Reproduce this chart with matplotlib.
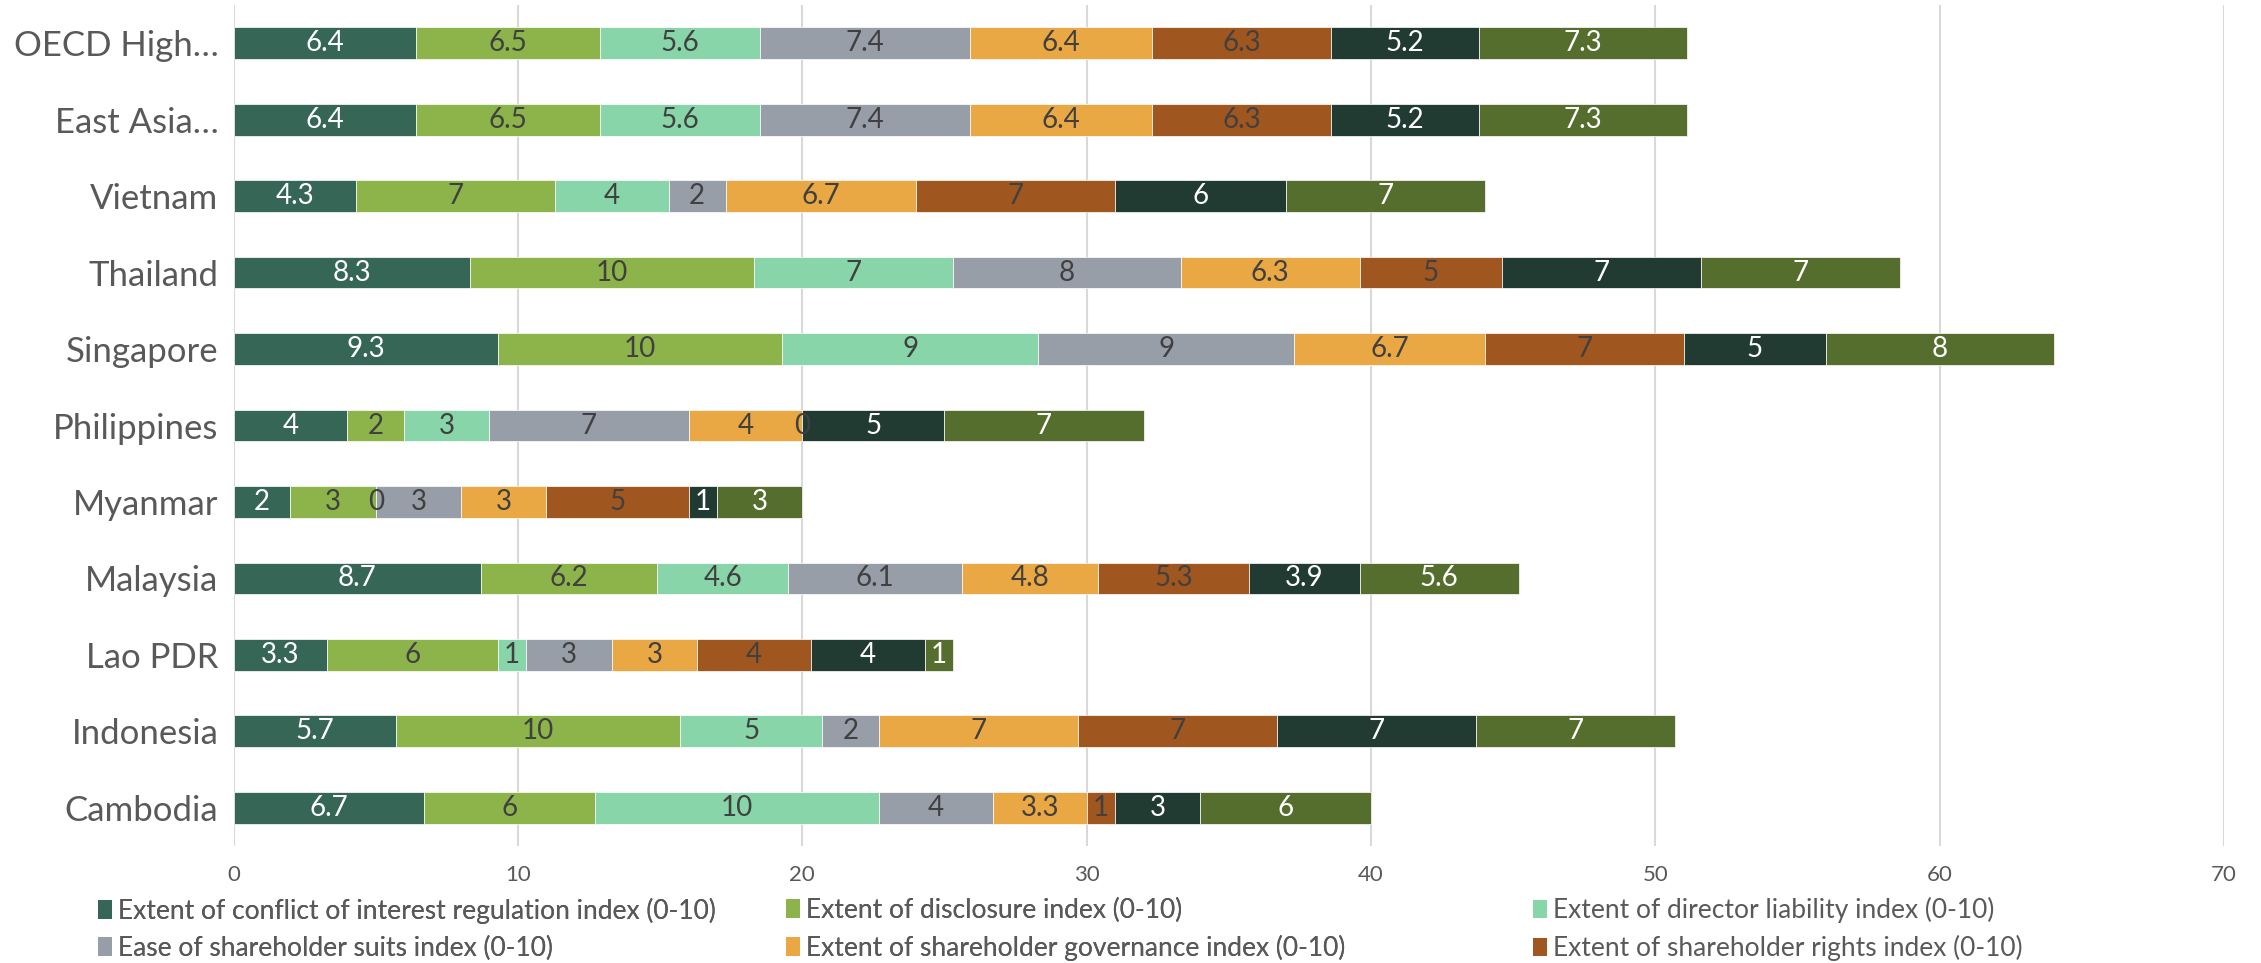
import matplotlib
matplotlib.use('Agg')
import matplotlib.pyplot as plt
import numpy as np
from matplotlib.patches import Patch

plt.rcParams['font.family'] = ['Lato', 'DejaVu Sans']

countries = ['OECD High…', 'East Asia…', 'Vietnam', 'Thailand', 'Singapore',
             'Philippines', 'Myanmar', 'Malaysia', 'Lao PDR', 'Indonesia', 'Cambodia']

series_names = ['Extent of conflict of interest regulation index (0-10)',
                'Extent of disclosure index (0-10)',
                'Extent of director liability index (0-10)',
                'Ease of shareholder suits index (0-10)',
                'Extent of shareholder governance index (0-10)',
                'Extent of shareholder rights index (0-10)',
                'Extent of ownership and control index (0-10)',
                'Extent of corporate transparency index (0-10)']

conflict = [6.4, 6.4, 4.3, 8.3, 9.3, 4, 2, 8.7, 3.3, 5.7, 6.7]
disclosure = [6.5, 6.5, 7, 10, 10, 2, 3, 6.2, 6, 10, 6]
director = [5.6, 5.6, 4, 7, 9, 3, 0, 4.6, 1, 5, 10]
suits = [7.4, 7.4, 2, 8, 9, 7, 3, 6.1, 3, 2, 4]
governance = [6.4, 6.4, 6.7, 6.3, 6.7, 4, 3, 4.8, 3, 7, 3.3]
rights = [6.3, 6.3, 7, 5, 7, 0, 5, 5.3, 4, 7, 1]
ownership = [5.2, 5.2, 6, 7, 5, 5, 1, 3.9, 4, 7, 3]
transparency = [7.3, 7.3, 7, 7, 8, 7, 3, 5.6, 1, 7, 6]

series = [conflict, disclosure, director, suits, governance, rights, ownership, transparency]
colors = ['#366656', '#8cb44a', '#88d5a9', '#979ea7', '#e9a843', '#a0561f', '#213b33', '#566e2d']
label_colors = ['white', '#404040', '#404040', '#404040', '#404040', '#404040', 'white', 'white']

fig = plt.figure(figsize=(22.61, 9.63), dpi=100)
ax = fig.add_axes([0.1033, 0.1215, 0.8804, 0.8733])

y = np.arange(len(countries))
left = np.zeros(len(countries))
handles = []
for vals, name, c, tc in zip(series, series_names, colors, label_colors):
    vals = np.array(vals, dtype=float)
    bars = ax.barh(y, vals, left=left, height=0.415, color=c, edgecolor='white',
                   linewidth=0.5, label=name)
    ax.bar_label(bars, labels=['{:g}'.format(v) for v in vals], label_type='center',
                 color=tc, fontsize=20)
    left += vals
    handles.append(Patch(facecolor=c, label=name))

ax.set_xlim(0, 70)
ax.set_ylim(len(countries) - 0.5, -0.5)
ax.set_xticks(np.arange(0, 71, 10))
ax.set_yticks(y)
ax.set_yticklabels(countries, fontsize=25, color='#595959')
ax.tick_params(axis='x', labelsize=16, labelcolor='#595959', length=0, pad=14)
ax.tick_params(axis='y', length=0, pad=11)
ax.grid(axis='x', color='#d9d9d9', linewidth=1.5)
ax.set_axisbelow(True)
for s in ax.spines.values():
    s.set_visible(False)

# legend: three columns, two rows (the last two series don't fit)
col_x = [0.0433, 0.3476, 0.678]
for i, x0 in enumerate(col_x):
    leg = fig.legend(handles=[handles[i], handles[i + 3]], loc='center left',
                     bbox_to_anchor=(x0, 0.035), frameon=False, fontsize=19,
                     handlelength=0.55, handleheight=0.7, handletextpad=0.2,
                     labelspacing=0.45, borderpad=0, borderaxespad=0,
                     labelcolor='#595959')
    if i < 2:
        fig.add_artist(leg)

fig.savefig('out.png', dpi=100)
